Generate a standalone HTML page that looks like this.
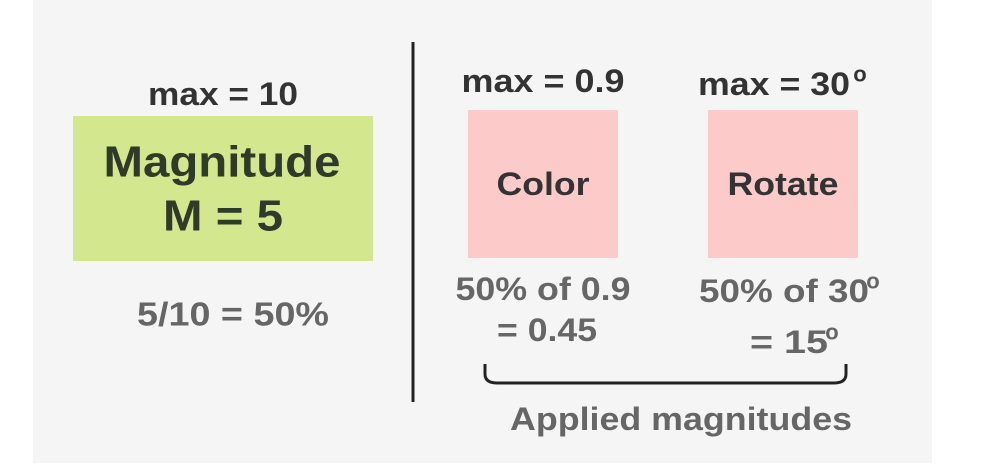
<!DOCTYPE html>
<html><head><meta charset="utf-8"><style>
html,body{margin:0;padding:0;background:#fff;}
svg{display:block;font-family:"Liberation Sans",sans-serif;font-weight:bold;}
</style></head><body>
<svg width="992" height="476" viewBox="0 0 992 476">
<rect x="33" y="0" width="899" height="463" fill="#f5f5f5"/>
<line x1="413" y1="42" x2="413" y2="402" stroke="#222" stroke-width="3"/>
<rect x="73" y="116" width="300" height="145" fill="#d3e78e"/>
<rect x="468" y="110" width="150" height="148" fill="#fdcaca"/>
<rect x="708" y="110" width="150" height="148" fill="#fdcaca"/>
<g text-anchor="middle" dominant-baseline="central" lengthAdjust="spacingAndGlyphs">
<text x="223" y="94" font-size="32" fill="#333" textLength="150" lengthAdjust="spacingAndGlyphs">max = 10</text>
<text x="222" y="162" font-size="44" fill="#2e3a2a" textLength="237" lengthAdjust="spacingAndGlyphs">Magnitude</text>
<text x="223" y="216" font-size="44" fill="#2e3a2a" textLength="120" lengthAdjust="spacingAndGlyphs">M = 5</text>
<text x="233" y="314" font-size="33" fill="#666" textLength="192" lengthAdjust="spacingAndGlyphs">5/10 = 50%</text>
<text x="543" y="81" font-size="32" fill="#333" textLength="163" lengthAdjust="spacingAndGlyphs">max = 0.9</text>
<text x="774" y="84" font-size="32" fill="#333" textLength="152" lengthAdjust="spacingAndGlyphs">max = 30</text>
<text x="860" y="74" font-size="22" fill="#333">o</text>
<text x="543" y="184" font-size="32" fill="#333" textLength="93" lengthAdjust="spacingAndGlyphs">Color</text>
<text x="783" y="184" font-size="32" fill="#333" textLength="111" lengthAdjust="spacingAndGlyphs">Rotate</text>
<text x="543" y="289" font-size="32" fill="#666" textLength="175" lengthAdjust="spacingAndGlyphs">50% of 0.9</text>
<text x="547" y="330" font-size="32" fill="#666" textLength="100" lengthAdjust="spacingAndGlyphs">= 0.45</text>
<text x="784" y="291" font-size="32" fill="#666" textLength="170" lengthAdjust="spacingAndGlyphs">50% of 30</text>
<text x="873" y="281" font-size="22" fill="#666">o</text>
<text x="789" y="342" font-size="32" fill="#666" textLength="78" lengthAdjust="spacingAndGlyphs">= 15</text>
<text x="832" y="332" font-size="22" fill="#666">o</text>
<text x="681" y="419" font-size="32" fill="#666" textLength="342" lengthAdjust="spacingAndGlyphs">Applied magnitudes</text>
</g>
<path d="M485,364 L485,374 Q485,383 497,383 L834,383 Q846,383 846,374 L846,364" fill="none" stroke="#222" stroke-width="3"/>
</svg>
</body></html>
